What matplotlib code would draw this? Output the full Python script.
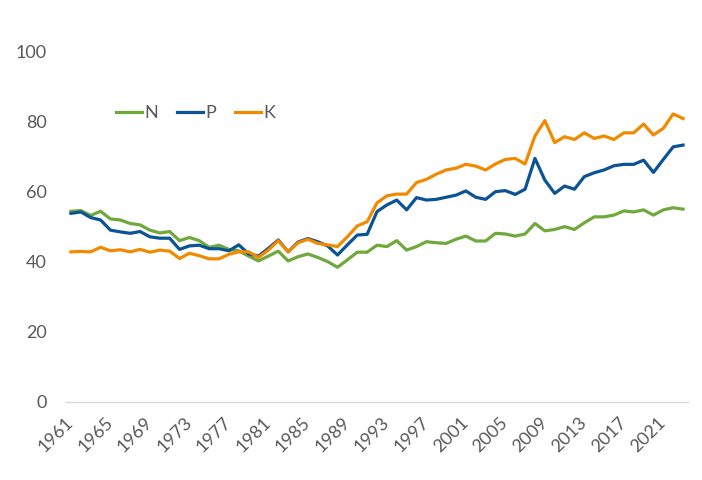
import numpy as np
import matplotlib
matplotlib.use("Agg")
import matplotlib.pyplot as plt

# values, 1961-2023
years = list(range(1961, 2024))

n_vals = [54.5, 54.7, 53.3, 54.5, 52.3, 52.0, 51.0, 50.6, 49.1, 48.3,
          48.7, 46.1, 47.0, 46.1, 44.2, 44.8, 43.6, 43.2, 41.7, 40.3,
          41.7, 43.1, 40.3, 41.5, 42.3, 41.3, 40.1, 38.5, 40.6, 42.8,
          42.8, 44.8, 44.4, 46.1, 43.4, 44.4, 45.8, 45.5, 45.3, 46.5,
          47.4, 46.0, 46.0, 48.2, 48.0, 47.4, 48.0, 51.0, 48.9, 49.3,
          50.1, 49.3, 51.2, 52.9, 52.9, 53.4, 54.6, 54.3, 54.9, 53.4,
          54.9, 55.5, 55.1]

p_vals = [53.9, 54.3, 52.7, 52.0, 49.1, 48.6, 48.2, 48.7, 47.2, 46.8,
          46.8, 43.6, 44.6, 44.8, 43.8, 43.8, 43.2, 44.9, 42.3, 41.7,
          43.9, 46.3, 42.9, 45.7, 46.7, 45.8, 44.6, 42.0, 44.9, 47.7,
          47.9, 54.4, 56.3, 57.7, 54.9, 58.4, 57.7, 57.9, 58.5, 59.1,
          60.3, 58.5, 57.9, 60.1, 60.4, 59.3, 60.8, 69.6, 63.4, 59.6,
          61.7, 60.8, 64.4, 65.5, 66.3, 67.5, 67.9, 67.9, 69.1, 65.6,
          69.3, 72.9, 73.4]

k_vals = [42.9, 43.0, 42.9, 44.2, 43.2, 43.5, 42.9, 43.6, 42.8, 43.4,
          43.1, 41.0, 42.5, 41.8, 40.9, 40.9, 42.2, 42.9, 42.9, 41.3,
          43.4, 46.1, 42.9, 45.5, 46.5, 45.3, 44.9, 44.4, 47.2, 50.3,
          51.5, 56.9, 58.9, 59.4, 59.4, 62.7, 63.6, 65.1, 66.3, 66.8,
          67.9, 67.4, 66.3, 68.0, 69.3, 69.6, 68.0, 76.0, 80.4, 74.1,
          75.8, 75.0, 76.9, 75.3, 76.0, 75.0, 76.9, 76.9, 79.4, 76.3,
          78.2, 82.3, 81.0]

series_names = ["N", "P", "K"]
colours = ["#70A83B", "#0B5394", "#F28A00"]
y_ticks = [0, 20, 40, 60, 80, 100]
x_ticks = years[::4]

text_grey = "#595959"
plt.rcParams['font.family'] = ['Lato', 'DejaVu Sans']

W, H = 702, 480
fig = plt.figure(figsize=(W / 100, H / 100), dpi=100)
ax = fig.add_axes([66 / W, (H - 402) / H, (688 - 66) / W, (402 - 52) / H])

for vals, name, col in zip([n_vals, p_vals, k_vals], series_names, colours):
    ax.plot(years, vals, color=col, lw=2.3, label=name, solid_joinstyle="round")

ax.set_xlim(years[0] - 0.5, years[-1] + 0.5)
ax.set_ylim(0, 100)
ax.set_yticks(y_ticks)
ax.set_xticks(x_ticks)
ax.set_xticklabels([str(y) for y in x_ticks], rotation=45, ha="right",
                   va="center", rotation_mode="anchor")
ax.tick_params(axis="both", length=0, colors=text_grey, labelsize=13)
ax.tick_params(axis="y", pad=14)
ax.tick_params(axis="x", pad=13)

for s in ["top", "right", "left"]:
    ax.spines[s].set_visible(False)
ax.spines["bottom"].set_color("#D9D9D9")
ax.spines["bottom"].set_linewidth(1.0)
ax.set_zorder(1)

leg = ax.legend(loc="center left", bbox_to_anchor=(116 / W, 1 - 113 / H),
                bbox_transform=fig.transFigure, ncol=3, frameon=False,
                handlelength=1.45, handletextpad=0.12, columnspacing=1.05,
                borderpad=0, borderaxespad=0, fontsize=13)
for t in leg.get_texts():
    t.set_color(text_grey)

fig.savefig("out.png", dpi=100)
